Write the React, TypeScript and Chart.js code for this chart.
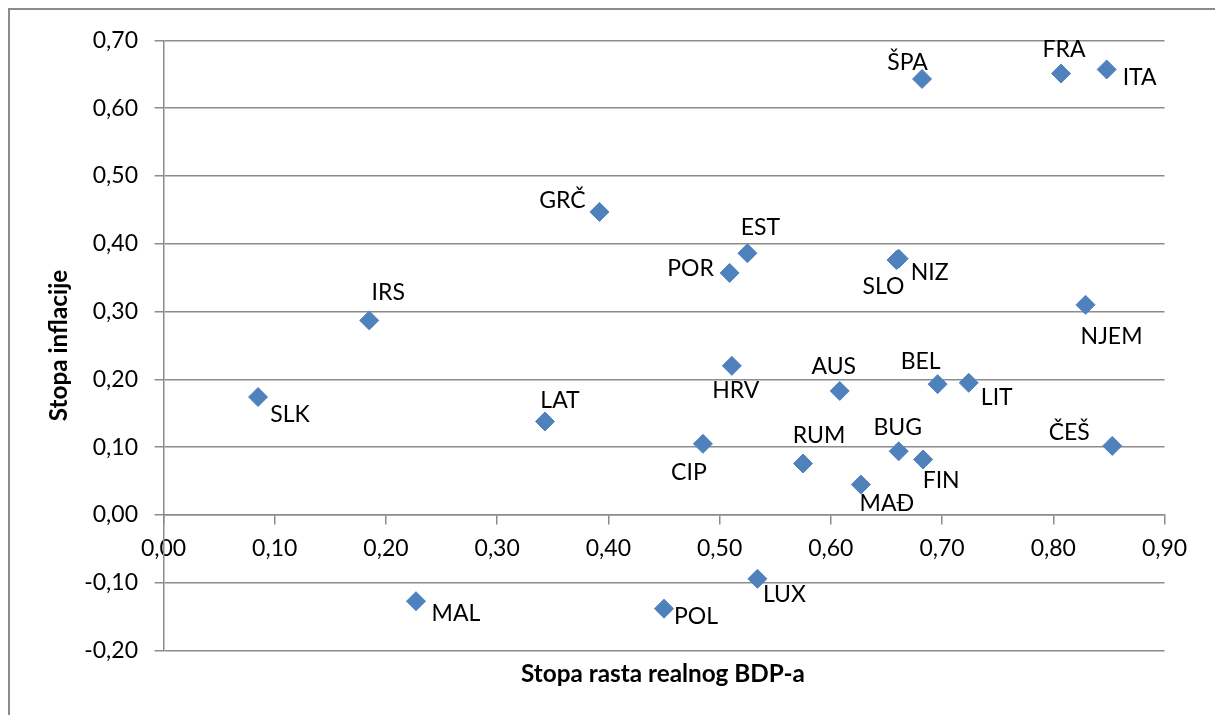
import React, { useEffect, useRef } from "react";
import { Chart, registerables } from "chart.js";

Chart.register(...registerables);

// ---- data ----
const countries = [
  "SLK", "IRS", "MAL", "LAT", "GRČ", "POL", "CIP", "POR", "HRV", "EST",
  "LUX", "RUM", "AUS", "MAĐ", "SLO", "NIZ", "BUG", "ŠPA", "FIN", "BEL",
  "LIT", "FRA", "ITA", "NJEM", "ČEŠ",
];
const gdpGrowth = [
  0.085, 0.185, 0.227, 0.343, 0.392, 0.450, 0.485, 0.509, 0.511, 0.525,
  0.534, 0.575, 0.608, 0.627, 0.659, 0.661, 0.661, 0.682, 0.683, 0.696,
  0.724, 0.807, 0.848, 0.829, 0.853,
];
const inflation = [
  0.174, 0.287, -0.127, 0.138, 0.447, -0.138, 0.105, 0.357, 0.220, 0.386,
  -0.094, 0.076, 0.183, 0.045, 0.376, 0.378, 0.094, 0.643, 0.082, 0.193,
  0.195, 0.651, 0.657, 0.310, 0.102,
];
const xTitle = "Stopa rasta realnog BDP-a";
const yTitle = "Stopa inflacije";

// ---- label placement (style, px offsets from marker to label cap-centre) ----
const labelDx = [
  32, 19, 40, 15, -37, 32, -14, -39, 4, 13,
  27, 16, -6, 26, -13, 31, -1, -14.5, 18, -17,
  28, 3, 33, 26, -43,
];
const labelDy = [
  17, -29, 12, -21.5, -12, 7, 28, -5, 24, -27,
  15, -28.5, -25, 18, 26, 13, -25, -17.6, 20.5, -23,
  14, -25, 7, 31, -14,
];

const FONT = "Lato, 'Open Sans', sans-serif";
const FONT_SIZE = 23;
const TITLE_SIZE = 24.3;
const CAP_HALF = FONT_SIZE * 0.36;
const GRID = "#8c8c8c";
const MARKER = "#4F81BD";

const fmt = (v: number) => {
  const n = Math.abs(Number(v)) < 1e-9 ? 0 : Number(v);
  return n.toFixed(2).replace(".", ",");
};

export default function App() {
  const ref = useRef<HTMLCanvasElement>(null);

  useEffect(() => {
    if (!ref.current) return;

    const labelPlugin = {
      id: "pointLabelsAndTitles",
      afterDatasetsDraw(chart: any) {
        const ctx = chart.ctx as CanvasRenderingContext2D;
        const meta = chart.getDatasetMeta(0);
        const area = chart.chartArea;
        ctx.save();
        ctx.fillStyle = "#000";
        ctx.font = `${FONT_SIZE}px ${FONT}`;
        ctx.textAlign = "center";
        ctx.textBaseline = "alphabetic";
        meta.data.forEach((el: any, i: number) => {
          ctx.fillText(countries[i], el.x + labelDx[i], el.y + labelDy[i] + CAP_HALF);
        });

        ctx.font = `bold ${TITLE_SIZE}px ${FONT}`;
        ctx.fillText(xTitle, (area.left + area.right) / 2 - 1, area.bottom + 31.3);

        ctx.translate(area.left - 97, (area.top + area.bottom) / 2);
        ctx.rotate(-Math.PI / 2);
        ctx.fillText(yTitle, 0, 0);
        ctx.restore();
      },
    };

    const chart = new Chart(ref.current, {
      type: "scatter",
      data: {
        datasets: [
          {
            label: "Zemlje",
            data: gdpGrowth.map((x, i) => ({ x, y: inflation[i] })),
            pointStyle: "rectRot",
            pointRadius: 9.5,
            pointHoverRadius: 9.5,
            backgroundColor: MARKER,
            borderColor: MARKER,
            borderWidth: 1,
            showLine: false,
          },
        ],
      },
      options: {
        responsive: false,
        animation: false,
        layout: { padding: { left: 0, right: 50.5, top: 28.3, bottom: 64.3 } },
        plugins: {
          legend: { display: false },
          tooltip: { enabled: false },
        },
        scales: {
          x: {
            type: "linear",
            min: 0,
            max: 0.9,
            position: { y: 0 } as any,
            ticks: {
              stepSize: 0.1,
              callback: (v: any) => fmt(v),
              font: { family: FONT, size: FONT_SIZE },
              color: "#000",
              padding: 11,
              maxRotation: 0,
              autoSkip: false,
            },
            grid: {
              drawOnChartArea: false,
              drawTicks: true,
              tickLength: 9,
              color: GRID,
              lineWidth: 1.5,
            },
            border: { display: true, color: GRID, width: 1.5 },
          },
          y: {
            type: "linear",
            min: -0.2,
            max: 0.7,
            ticks: {
              stepSize: 0.1,
              callback: (v: any) => fmt(v),
              font: { family: FONT, size: FONT_SIZE },
              color: "#000",
              padding: 16.5,
            },
            grid: {
              color: GRID,
              lineWidth: 1.5,
              tickLength: 9,
            },
            border: { display: true, color: GRID, width: 1.5 },
            afterFit: (s: any) => {
              s.width = 153.5;
            },
          },
        },
      },
      plugins: [labelPlugin],
    });

    return () => chart.destroy();
  }, []);

  return (
    <div
      style={{
        position: "fixed",
        left: 8,
        top: 8,
        width: 1240,
        height: 740,
        borderTop: `2px solid ${GRID}`,
        borderLeft: `2px solid ${GRID}`,
        boxSizing: "border-box",
        background: "#fff",
      }}
    >
      <canvas ref={ref} width={1205} height={705} style={{ display: "block" }} />
    </div>
  );
}
